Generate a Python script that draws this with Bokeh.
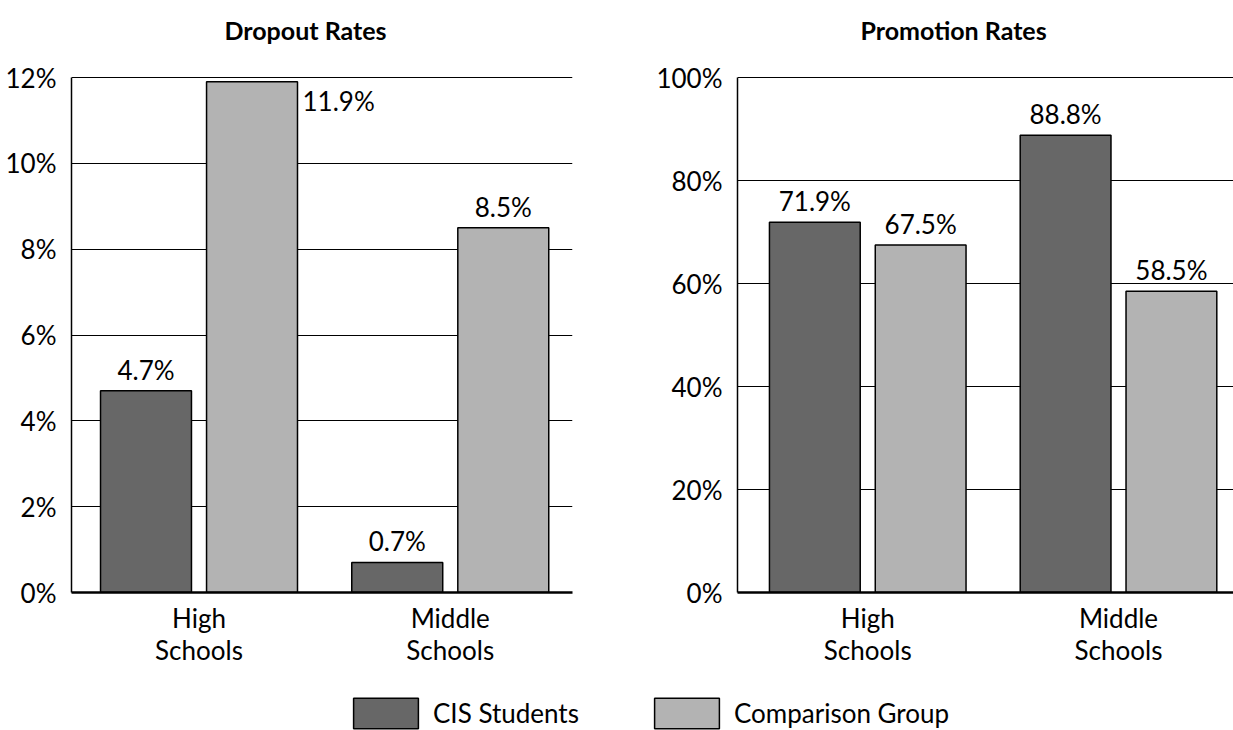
import numpy as np
from bokeh.plotting import figure
from bokeh.models import (ColumnDataSource, FixedTicker, PrintfTickFormatter, Legend,
                          LegendItem, Range1d, Label)
from bokeh.layouts import column, row
from bokeh.core.properties import value
from bokeh.embed import file_html
from bokeh.resources import INLINE

# ---- data ----
groups = ["High\nSchools", "Middle\nSchools"]
group_x = [0.5, 1.5]
series = ["CIS Students", "Comparison Group"]
colors = ["#676767", "#b3b3b3"]
dropout_cis = [4.7, 0.7]
dropout_comp = [11.9, 8.5]
promotion_cis = [71.9, 88.8]
promotion_comp = [67.5, 58.5]
dropout_ticks = [0, 2, 4, 6, 8, 10, 12]
promotion_ticks = [0, 20, 40, 60, 80, 100]

FONT = "Lato"
FS = "26px"
BAR_W = 0.362
DODGE = 0.211
PLOT_H = 515      # height of the value area (0 .. max tick)
TOP_H = 77        # space above the value area that holds the title


def panel(title, cis, comp, ticks, x_start, x_end, frame_w, bl, br, title_x):
    ymax = ticks[-1]
    y_end = ymax * (PLOT_H + TOP_H) / PLOT_H
    p = figure(frame_width=frame_w, frame_height=PLOT_H + TOP_H,
               x_range=Range1d(x_start, x_end), y_range=Range1d(ticks[0], y_end),
               output_backend="svg", toolbar_location=None,
               min_border_left=bl, min_border_right=br, min_border_top=0,
               min_border_bottom=80, outline_line_color=None)
    above = dict(x=[], y=[], t=[])
    right = dict(x=[], y=[], t=[])
    for vals, off, col in ((cis, -DODGE, colors[0]), (comp, DODGE, colors[1])):
        xs = [g + off for g in group_x]
        src = ColumnDataSource(dict(x=xs, top=vals))
        p.vbar(x="x", top="top", width=BAR_W, source=src, fill_color=col,
               line_color="black", line_width=1.5)
        for x, v in zip(xs, vals):
            if v > 0.93 * ymax:
                right["x"].append(x + BAR_W / 2)
                right["y"].append(v)
                right["t"].append(f"{v:.1f}%")
            else:
                above["x"].append(x)
                above["y"].append(v)
                above["t"].append(f"{v:.1f}%")
    p.text(x="x", y="y", text="t", source=ColumnDataSource(above), text_align="center",
           text_baseline="bottom", y_offset=-5, text_font=value(FONT),
           text_font_size=FS, text_color="black")
    if right["x"]:
        p.text(x="x", y="y", text="t", source=ColumnDataSource(right), text_align="left",
               text_baseline="top", x_offset=5, y_offset=3, text_font=value(FONT),
               text_font_size=FS, text_color="black")

    p.add_layout(Label(x=title_x, y=PLOT_H + TOP_H - 29, x_units="screen", y_units="screen",
                       text=title, text_font=FONT, text_font_size="25px",
                       text_font_style="bold", text_align="left",
                       text_baseline="alphabetic", text_color="black"))

    p.yaxis.ticker = FixedTicker(ticks=ticks)
    p.yaxis.formatter = PrintfTickFormatter(format="%d%%")
    p.yaxis.bounds = (ticks[0], ymax)
    p.xaxis.ticker = FixedTicker(ticks=group_x)
    p.xaxis.major_label_overrides = {gx: g for gx, g in zip(group_x, groups)}
    for ax in (p.xaxis, p.yaxis):
        ax.major_tick_line_color = None
        ax.minor_tick_line_color = None
        ax.axis_line_color = "black"
        ax.major_label_text_font = FONT
        ax.major_label_text_font_size = FS
        ax.major_label_text_color = "black"
    p.xaxis.major_label_text_line_height = 1.0
    p.yaxis.major_label_standoff = 9
    p.xaxis.major_label_standoff = 3
    p.yaxis.axis_line_width = 1.5
    p.xaxis.axis_line_width = 2.5
    p.xgrid.grid_line_color = None
    p.ygrid.ticker = FixedTicker(ticks=ticks)
    p.ygrid.grid_line_color = "black"
    p.ygrid.grid_line_alpha = 1.0
    p.ygrid.grid_line_width = 1
    return p


p1 = panel("Dropout Rates", dropout_cis, dropout_comp, dropout_ticks,
           -0.0075, 1.9865, 501, 71, 40, 153)
p2 = panel("Promotion Rates", promotion_cis, promotion_comp, promotion_ticks,
           -0.0194, 1.9586, 496, 125, 0, 123)

lf = figure(width=1233, height=58, x_range=Range1d(0, 1), y_range=Range1d(0, 1),
            output_backend="svg", toolbar_location=None, min_border=0,
            x_axis_location=None, y_axis_location=None, outline_line_color=None)
lf.grid.visible = False
nan_src = dict(x=np.array([np.nan]), top=np.array([np.nan]))
r1 = lf.vbar(x="x", top="top", source=ColumnDataSource(nan_src), width=0.1,
             fill_color=colors[0], line_color="black", line_width=1.5)
r2 = lf.vbar(x="x", top="top", source=ColumnDataSource(dict(nan_src)), width=0.1,
             fill_color=colors[1], line_color="black", line_width=1.5)
legend = Legend(items=[LegendItem(label=series[0], renderers=[r1]),
                       LegendItem(label=series[1], renderers=[r2])],
                orientation="horizontal", location=(345, -2), glyph_width=81, glyph_height=38,
                label_standoff=7, spacing=67, padding=0, margin=0, border_line_color=None,
                background_fill_alpha=0, label_text_font=FONT, label_text_font_size=FS,
                label_text_color="black")
lf.add_layout(legend)

layout = column(row(p1, p2), lf)
open("out.html", "w").write(file_html(layout, INLINE))
